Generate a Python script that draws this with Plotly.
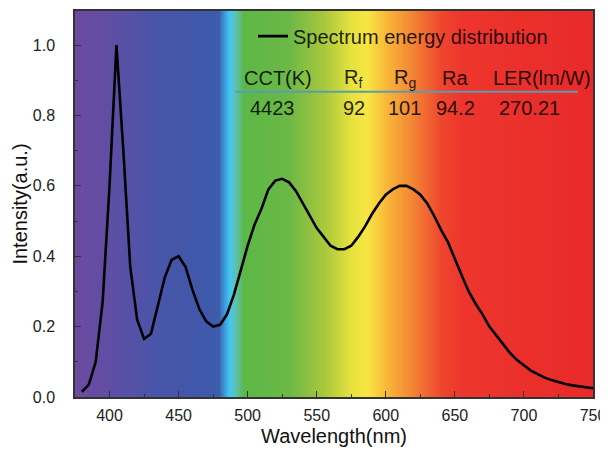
import numpy as np
import plotly.graph_objects as go

# ---- spectrum data ----
wavelength = [380, 385, 390, 395, 400, 405, 410, 415, 420, 425, 430, 435, 440, 445, 450,
              455, 460, 465, 470, 475, 480, 485, 490, 495, 500, 505, 510, 515, 520, 525,
              530, 535, 540, 545, 550, 555, 560, 565, 570, 575, 580, 585, 590, 595, 600,
              605, 610, 615, 620, 625, 630, 635, 640, 645, 650, 655, 660, 665, 670, 675,
              680, 685, 690, 695, 700, 705, 710, 715, 720, 725, 730, 735, 740, 745, 750]
intensity = [0.015, 0.035, 0.10, 0.27, 0.60, 1.00, 0.70, 0.37, 0.22, 0.165, 0.18, 0.26, 0.34, 0.39, 0.40,
             0.37, 0.305, 0.25, 0.215, 0.20, 0.205, 0.235, 0.29, 0.36, 0.43, 0.49, 0.535, 0.59, 0.615, 0.62,
             0.61, 0.585, 0.55, 0.515, 0.48, 0.455, 0.43, 0.42, 0.42, 0.43, 0.455, 0.485, 0.52, 0.55, 0.575,
             0.59, 0.60, 0.60, 0.59, 0.575, 0.55, 0.515, 0.475, 0.44, 0.39, 0.345, 0.30, 0.265, 0.235, 0.20,
             0.175, 0.15, 0.125, 0.105, 0.09, 0.075, 0.065, 0.055, 0.048, 0.042, 0.037, 0.033, 0.03, 0.027, 0.025]

# table values
table_headers = ["CCT(K)", "R<sub>f</sub>", "R<sub>g</sub>", "Ra", "LER(lm/W)"]
table_values = ["4423", "92", "101", "94.2", "270.21"]

# x/y tick labels
x_ticks = [400, 450, 500, 550, 600, 650, 700, 750]
y_ticks = [0.0, 0.2, 0.4, 0.6, 0.8, 1.0]

# background spectrum colour stops
bg_nm = [375, 400, 430, 470, 479, 484, 487, 491, 497, 530, 555, 575, 586, 600, 620, 640, 655, 750]
bg_col = ["#6c4aa0", "#5f4ea4", "#4b54a8", "#3e58aa", "#3e5cac", "#3caae6", "#44c8f0", "#5cc0b4",
          "#5cb846", "#6cb846", "#a8c83c", "#e6e23e", "#f8e642", "#f8b838", "#f28234", "#ee462e",
          "#ed352d", "#e82a2a"]

X_MIN, X_MAX = 375, 750
Y_MIN, Y_MAX = 0, 1.097

FONT = "Arial, Liberation Sans, sans-serif"

# gradient heatmap for the background
edges = np.arange(X_MIN, X_MAX + 1, 1.0)
centers = (edges[:-1] + edges[1:]) / 2
colorscale = [[(n - X_MIN) / (X_MAX - X_MIN), c] for n, c in zip(bg_nm, bg_col)]

fig = go.Figure()
fig.add_trace(go.Heatmap(
    x=edges, y=[Y_MIN, Y_MAX], z=[centers.tolist()],
    zmin=X_MIN, zmax=X_MAX, colorscale=colorscale, showscale=False,
    zsmooth="best", hoverinfo="skip", showlegend=False,
))
fig.add_trace(go.Scatter(
    x=wavelength, y=intensity, mode="lines",
    line=dict(color="black", width=2.6),
    name="Spectrum energy distribution", showlegend=True,
))

# table annotations
head_x = [0.391, 0.537, 0.637, 0.734, 0.9025]
val_x = [0.382, 0.5386, 0.637, 0.735, 0.878]
txt_col = "rgba(0,0,0,0.85)"
for h, xp in zip(table_headers, head_x):
    fig.add_annotation(x=xp, y=0.8264, xref="paper", yref="paper", text=h, showarrow=False,
                       font=dict(family=FONT, size=20, color=txt_col), xanchor="center", yanchor="middle")
for v, xp in zip(table_values, val_x):
    fig.add_annotation(x=xp, y=0.7487, xref="paper", yref="paper", text=v, showarrow=False,
                       font=dict(family=FONT, size=20, color=txt_col), xanchor="center", yanchor="middle")
fig.add_shape(type="line", xref="paper", yref="paper", x0=0.309, x1=0.971, y0=0.791, y1=0.791,
              line=dict(color="#5b9cb0", width=2))

# the page body adds an 8px offset, so the figure is 600x446 with margins adjusted
fig.update_layout(
    width=600, height=446,
    margin=dict(l=67, r=15, t=3, b=57, autoexpand=False),
    paper_bgcolor="white", plot_bgcolor="white",
    font=dict(family=FONT, color="#222"),
    showlegend=True,
    legend=dict(x=0.3436, y=0.935, xanchor="left", yanchor="middle",
                bgcolor="rgba(0,0,0,0)", borderwidth=0,
                font=dict(family=FONT, size=20, color=txt_col)),
)
fig.update_xaxes(
    range=[X_MIN, X_MAX], tickvals=x_ticks, ticks="inside", ticklen=6, tickwidth=1.2,
    tickcolor="#333", showline=True, linecolor="#333", linewidth=1.5, mirror=True,
    showgrid=False, zeroline=False, tickfont=dict(size=16, color="#222"),
    ticklabelstandoff=3, automargin=False,
    minor=dict(dtick=25, tick0=400, ticks="inside", ticklen=3, tickwidth=1.2, tickcolor="#333", showgrid=False),
    title=dict(text="Wavelength(nm)", font=dict(size=20, color="#111"), standoff=6),
)
fig.update_yaxes(
    range=[Y_MIN, Y_MAX], tickvals=y_ticks, ticktext=[f"{v:.1f}" for v in y_ticks],
    ticks="inside", ticklen=6, tickwidth=1.2,
    tickcolor="#333", showline=True, linecolor="#333", linewidth=1.5, mirror=True,
    showgrid=False, zeroline=False, tickfont=dict(size=16, color="#222"),
    ticklabelstandoff=15, automargin=False,
    minor=dict(dtick=0.1, tick0=0, ticks="inside", ticklen=3, tickwidth=1.2, tickcolor="#333", showgrid=False),
    title=dict(text="Intensity(a.u.)", font=dict(size=20, color="#111"), standoff=0),
)

fig.write_html("out.html")
